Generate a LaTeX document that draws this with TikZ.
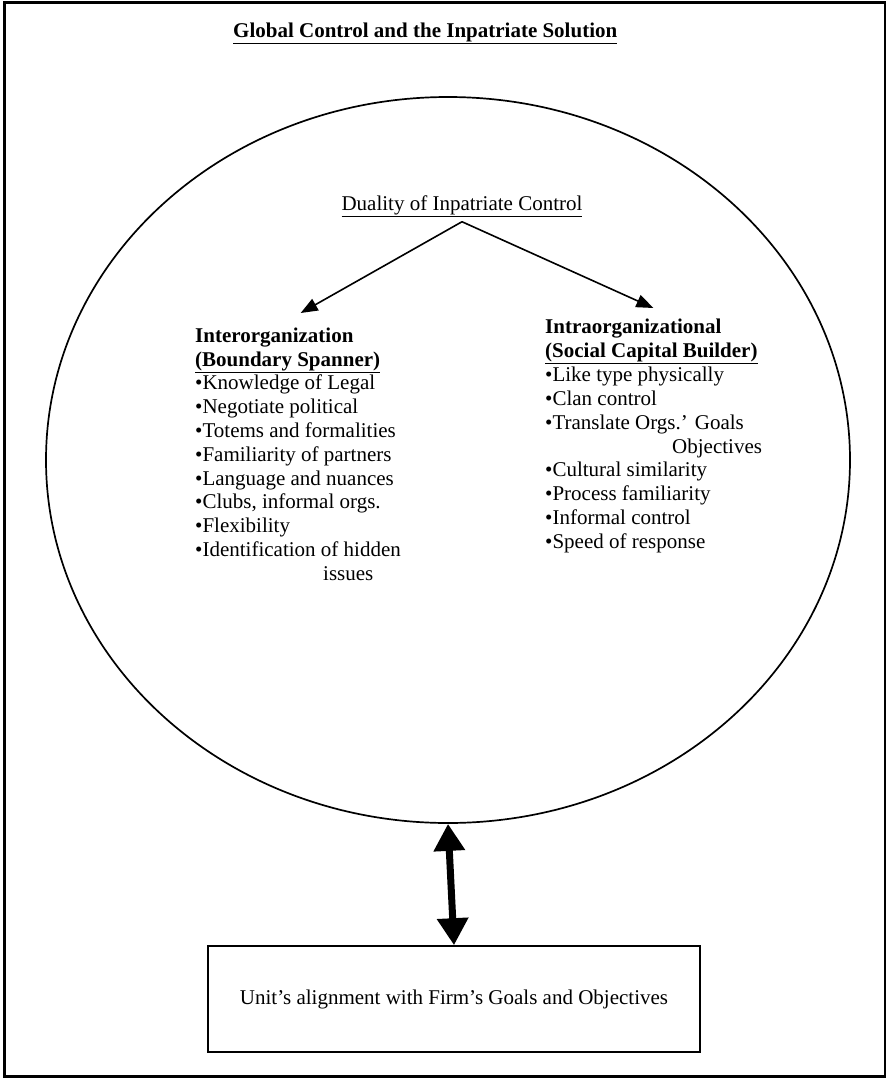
\documentclass[tikz,border=0pt]{standalone}
\usepackage{fontspec}
\setmainfont{Liberation Serif}
\usetikzlibrary{arrows.meta,shapes.geometric,positioning}

\begin{document}
\begin{tikzpicture}[x=1pt, y=-1pt,
    every node/.style={font=\fontsize{21}{23.8}\selectfont, inner sep=0pt},
    heading/.style={anchor=north west, align=left, font=\fontsize{21}{23.8}\selectfont\bfseries},
    itemlist/.style={anchor=north west, align=left},
    branch/.style={-{Triangle[length=17pt,width=13pt]}, line width=1.6pt}]
  \useasboundingbox (0,0) rectangle (888,1079);
  \fill[white] (0,0) rectangle (888,1079);
  \draw[line width=2.8pt] (4.5,2.5) rectangle (885,1076.5);
  \node[anchor=base west, font=\fontsize{21}{24}\selectfont\bfseries] (title) at (233,37) {\underline{Global Control and the Inpatriate Solution}};
  % the big circle
  \node[ellipse, draw, line width=1.7pt, minimum width=804pt, minimum height=726pt] (globe) at (448,460) {};
  \node[anchor=base, inner sep=5pt] (duality) at (462,210) {\underline{Duality of Inpatriate Control}};
  % two sides of control
  \node[heading] (inter) at (195,328) {Interorganization\\ \underline{(Boundary Spanner)}};
  \node[itemlist] (interlist) at (195,375) {•Knowledge of Legal\\ •Negotiate political\\ •Totems and formalities\\ •Familiarity of partners\\ •Language and nuances\\ •Clubs, informal orgs.\\ •Flexibility\\ •Identification of hidden\\ \hspace*{128pt}issues};
  \node[heading] (intra) at (545,319) {Intraorganizational\\ \underline{(Social Capital Builder)}};
  \node[itemlist] (intralist) at (545,367) {•Like type physically\\ •Clan control\\ •Translate Orgs.’ Goals\\ \hspace*{127pt}Objectives\\ •Cultural similarity\\ •Process familiarity\\ •Informal control\\ •Speed of response};
  \draw[branch] (duality.south) -- ([xshift=13pt, yshift=15pt]inter.north);
  \draw[branch] (duality.south) -- ([xshift=2pt, yshift=11pt]intra.north);
  % alignment box
  \node[draw, line width=1.6pt, minimum width=492pt, minimum height=106pt] (unitbox) at (454,999) {Unit’s alignment with Firm’s Goals and Objectives};
  \draw[line width=7pt, {Triangle[length=27pt,width=30pt]}-{Triangle[length=27pt,width=30pt]}] (globe.south) -- (unitbox.north);
\end{tikzpicture}
\end{document}
